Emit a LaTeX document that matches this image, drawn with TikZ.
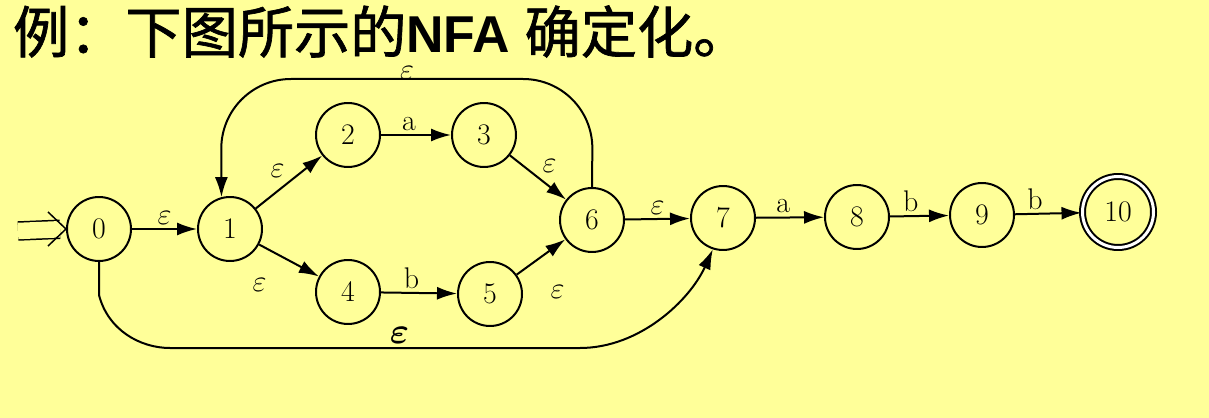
\documentclass[tikz,border=0pt]{standalone}
\usepackage{fontspec}
\usepackage{amsmath,bm}
\newfontfamily\cjk{Noto Sans CJK SC}[BoldFont=Noto Sans CJK SC, BoldFeatures={FakeBold=1.2}]
\newfontfamily\headlat{Liberation Sans}
\usetikzlibrary{arrows.meta,positioning,calc}
\definecolor{bgyellow}{RGB}{255,255,153}

\begin{document}
\begin{tikzpicture}[x=0.02cm, y=-0.02cm, >={Latex[length=0.4cm,width=0.26cm]}, line width=0.04cm, font=\fontsize{17}{20}\selectfont]
  \tikzstyle{nfastate}=[draw, circle, minimum size=1.28cm, inner sep=0pt]
  \tikzstyle{accept}=[nfastate, double, double distance=0.06cm, minimum size=1.42cm]
  \tikzstyle{lbl}=[inner sep=2pt]

  % background
  \fill[bgyellow] (0,0) rectangle (1209,418);
  \useasboundingbox (0,0) rectangle (1209,418);

  % ------- title -------
  \node[anchor=base west, inner sep=0pt] (title) at (12,53)
    {\fontsize{32}{36}\selectfont\cjk\bfseries 例：下图所示的{\headlat\bfseries\fontsize{29.5}{34}\selectfont NFA }确定化。};

  % ------- nodes -------
  \node[nfastate] (n0) at (99,229) {0};
  \node[nfastate] (n1) at (230,229) {1};
  \node[nfastate] (n2) at (348,135) {2};
  \node[nfastate] (n3) at (484,135) {3};
  \node[nfastate] (n4) at (348,292) {4};
  \node[nfastate] (n5) at (490,294) {5};
  \node[nfastate] (n6) at (592,220) {6};
  \node[nfastate] (n7) at (723,218) {7};
  \node[nfastate] (n8) at (857,217) {8};
  \node[nfastate] (n9) at (982,215) {9};
  \node[accept]   (n10) at (1118,212) {10};

  % start marker
  \coordinate (start) at (18,231);
  \draw[double=bgyellow, double distance=0.33cm, line width=0.03cm, shorten >=0.12cm] (start) -- (n0.west);
  \draw[line width=0.03cm] ($(n0.west)+(-18,-17)$) -- (n0.west) -- ($(n0.west)+(-18,17)$);

  % ------- arrows -------
  \draw[->] (n0) -- node[lbl, above] {$\varepsilon$} (n1);
  \draw[->] (n1) -- node[lbl, above left] {$\varepsilon$} (n2);
  \draw[->] (n1) -- node[lbl, pos=0.2, below left=4.5mm and 0mm] {$\varepsilon$} (n4);
  \draw[->] (n2) -- node[lbl, above, pos=0.4] {a} (n3);
  \draw[->] (n3) -- node[lbl, above right] {$\varepsilon$} (n6);
  \draw[->] (n4) -- node[lbl, above, pos=0.4] {b} (n5);
  \draw[->] (n5) -- node[lbl, pos=0.4, below right=4mm and 2mm] {$\varepsilon$} (n6);
  \draw[->] (n6) -- node[lbl, above] {$\varepsilon$} (n7);
  \draw[->] (n7) -- node[lbl, above, pos=0.4] {a} (n8);
  \draw[->] (n8) -- node[lbl, above, pos=0.35] {b} (n9);
  \draw[->] (n9) -- node[lbl, above, pos=0.3] {b} (n10);

  % loop back from 6 to 1 over the top
  \draw[->, rounded corners=1.4cm] (n6.north) -- (593,79) -- node[lbl, above=-1pt, inner sep=0pt] {$\varepsilon$} (221,79) -- (n1.105);

  % bypass from 0 to 7 underneath
  \draw[->] (n0.south) -- (99,295) .. controls (108,330) and (140,348) .. (170,348)
    -- node[lbl, above, pos=0.56] {\fontsize{22}{26}\selectfont$\bm{\varepsilon}$} (580,348)
    .. controls (640,348) and (690,300) .. (n7.252);
\end{tikzpicture}
\end{document}
